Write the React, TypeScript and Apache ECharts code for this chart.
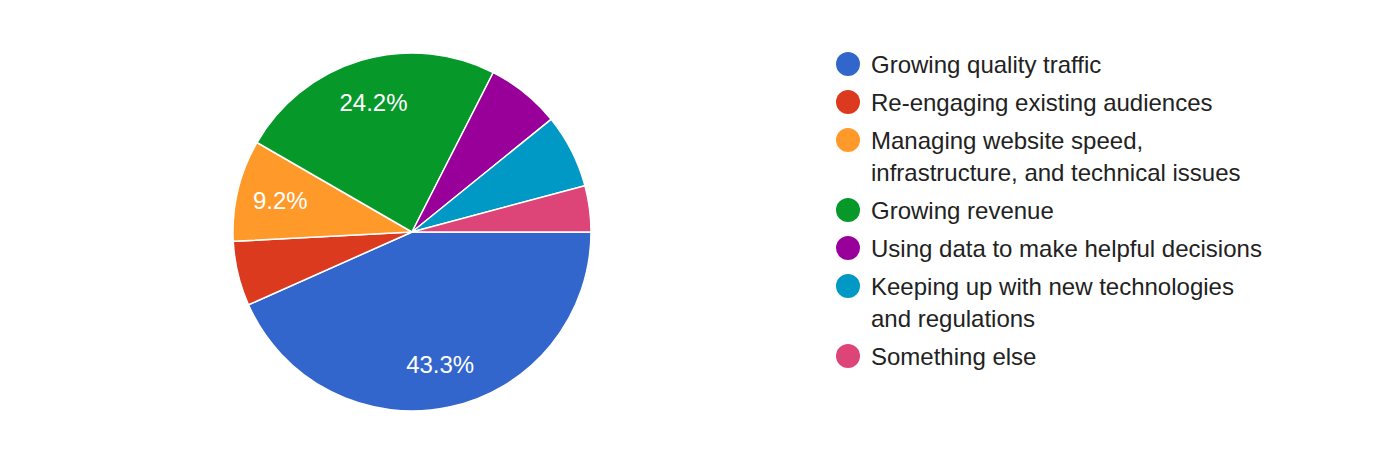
import * as echarts from "echarts";
import { useEffect, useRef } from "react";

// survey answers, in the order Google draws them (clockwise from 3 o'clock)
const categories = [
  "Growing quality traffic",
  "Re-engaging existing audiences",
  "Managing website speed,\ninfrastructure, and technical issues",
  "Growing revenue",
  "Using data to make helpful decisions",
  "Keeping up with new technologies\nand regulations",
  "Something else",
];
const responses = [52, 7, 11, 29, 8, 8, 5];
const colors = [
  "#3366cc",
  "#dc3a1e",
  "#ff9a2a",
  "#06992a",
  "#990099",
  "#0099c6",
  "#dd4477",
];
// slices smaller than this get no percentage label
const labelThreshold = 8;

const FONT = '"Liberation Sans", Arial, sans-serif';
const LINE_H = 32;
const DOT = 24;

const maxLines = Math.max(...categories.map((c) => c.split("\n").length));
const iconBoxH = DOT + (maxLines - 1) * LINE_H;

// dot path; for wrapped labels an extra empty point below pushes the dot
// up to the first text line (the icon is fitted into the box keeping aspect)
const dotIcon = (lines: number) => {
  const circle = `M${DOT / 2} 0A${DOT / 2} ${DOT / 2} 0 1 1 ${DOT / 2} ${DOT}A${DOT / 2} ${DOT / 2} 0 1 1 ${DOT / 2} 0Z`;
  if (lines === 1) return "path://" + circle;
  const ext = DOT + (lines - 1) * LINE_H;
  return `path://${circle}M${DOT / 2} ${ext}L${DOT / 2 + 0.01} ${ext}`;
};

const getOptions = (): echarts.EChartsOption => {
  const data = categories.map((name, i) => ({ name, value: responses[i] }));
  return {
    animation: false,
    color: colors,
    textStyle: { fontFamily: FONT },
    legend: {
      orient: "vertical",
      left: 836,
      top: 48,
      padding: 0,
      itemWidth: DOT,
      itemHeight: iconBoxH,
      itemGap: 6,
      selectedMode: false,
      itemStyle: { borderWidth: 0 },
      textStyle: {
        fontFamily: FONT,
        fontSize: 24,
        lineHeight: LINE_H,
        color: "#222222",
        padding: [0, 0, 0, 6],
      },
      data: categories.map((name) => ({
        name,
        icon: dotIcon(name.split("\n").length),
      })),
    },
    series: [
      {
        type: "pie",
        center: [412, 232],
        radius: 179,
        startAngle: 0,
        clockwise: true,
        label: { show: false },
        labelLine: { show: false },
        emphasis: { disabled: true },
        itemStyle: { borderColor: "#ffffff", borderWidth: 1.5 },
        data,
      },
      {
        // transparent ring only used to place the percentages further out
        type: "pie",
        name: "labels",
        center: [412, 232],
        radius: [86, 179],
        startAngle: 0,
        clockwise: true,
        silent: true,
        emphasis: { disabled: true },
        itemStyle: { color: "transparent", borderWidth: 0 },
        labelLine: { show: false },
        label: {
          show: true,
          position: "inside",
          color: "#ffffff",
          fontFamily: FONT,
          fontSize: 24,
          formatter: (p: any) =>
            p.percent >= labelThreshold ? p.percent.toFixed(1) + "%" : "",
        },
        data,
      },
    ],
  };
};

export default function App() {
  const chartRef = useRef<HTMLDivElement | null>(null);

  useEffect(() => {
    if (!chartRef.current) return;
    const chart = echarts.init(chartRef.current, null, { renderer: "svg" });
    chart.setOption(getOptions());
    return () => {
      chart.dispose();
    };
  }, []);

  return (
    <div
      ref={chartRef}
      style={{
        position: "fixed",
        left: 0,
        top: 0,
        width: 1384,
        height: 452,
        background: "#ffffff",
      }}
    />
  );
}
